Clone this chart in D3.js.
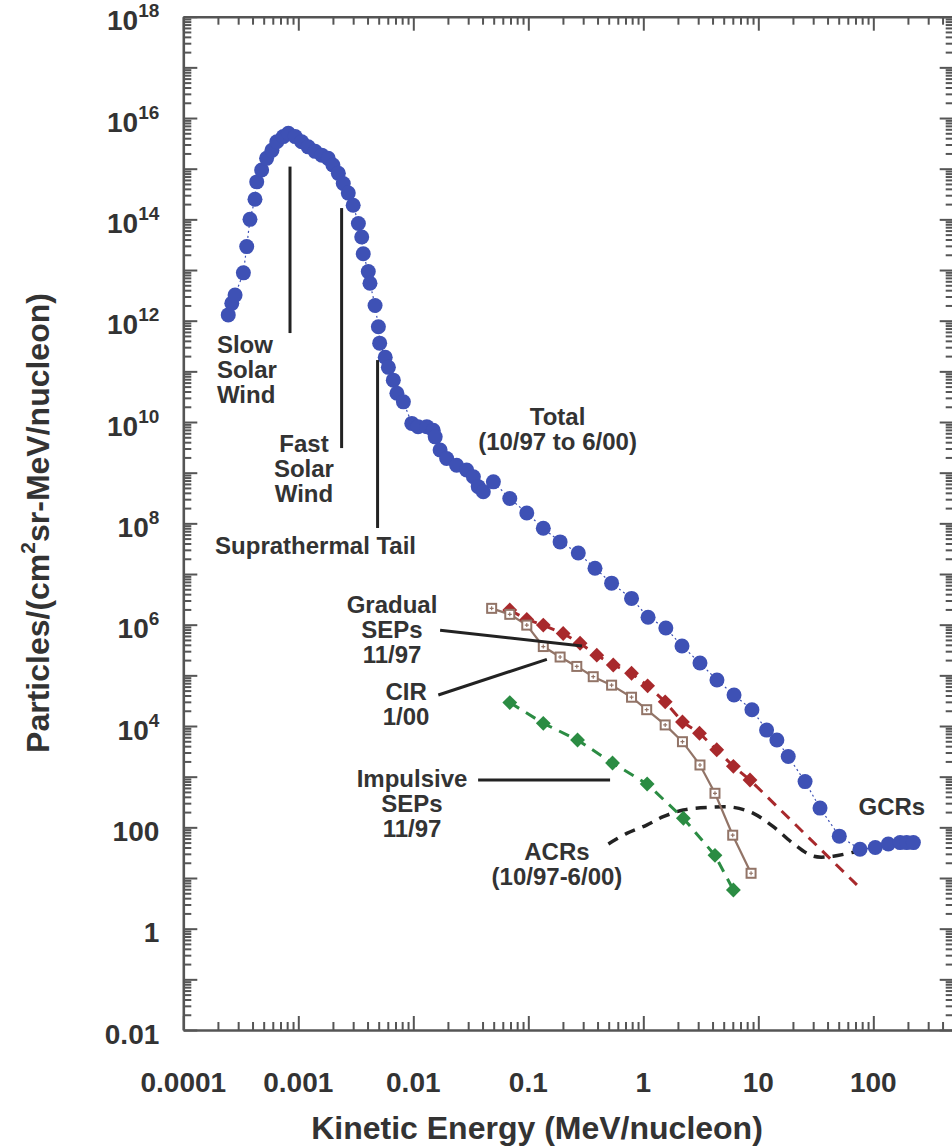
<!DOCTYPE html>
<html><head><meta charset="utf-8">
<script src="https://cdn.jsdelivr.net/npm/d3@7"></script>
<style>html,body{margin:0;padding:0;background:#fff;} svg{display:block}</style>
</head><body><svg id="chart" width="952" height="1148"></svg>
<script>
// ---------------- DATA ----------------
const xTickValues = [1e-4, 1e-3, 1e-2, 1e-1, 1, 10, 100];
const xTickLabels = ["0.0001", "0.001", "0.01", "0.1", "1", "10", "100"];
const yTickValues = [1e-2, 1, 1e2, 1e4, 1e6, 1e8, 1e10, 1e12, 1e14, 1e16, 1e18];
const yTickBase = ["0.01", "1", "100", "10", "10", "10", "10", "10", "10", "10", "10"];
const yTickExp  = ["", "", "", "4", "6", "8", "10", "12", "14", "16", "18"];

// Total (10/97 to 6/00)
const totalEnergy = [2.46e-4, 2.64e-4, 2.82e-4, 3.33e-4, 3.56e-4, 3.80e-4, 4.2e-4, 4.35e-4, 4.8e-4, 5.3e-4,
  5.9e-4, 6.5e-4, 7.4e-4, 8.2e-4, 9.4e-4, 1.07e-3, 1.22e-3, 1.40e-3, 1.6e-3, 1.82e-3,
  2.0e-3, 2.23e-3, 2.46e-3, 2.72e-3, 3.0e-3, 3.33e-3, 3.56e-3, 3.67e-3, 4.06e-3, 4.2e-3,
  4.65e-3, 4.97e-3, 5.1e-3, 5.7e-3, 6.07e-3, 6.7e-3, 7.2e-3, 8.2e-3, 9.7e-3, 1.10e-2,
  1.31e-2, 1.49e-2, 1.55e-2, 1.71e-2, 1.95e-2, 2.38e-2, 2.91e-2, 3.33e-2, 3.67e-2, 4.06e-2,
  4.97e-2, 6.9e-2, 9.7e-2, 0.135, 0.189, 0.272, 0.38, 0.53, 0.79, 1.10,
  1.57, 2.17, 3.11, 4.37, 6.15, 8.8, 11.8, 14.5, 18.2, 25.5,
  34.4, 50.6, 76.6, 104, 135, 171, 195, 223];
const totalFlux = [1.3e12, 2.2e12, 3.2e12, 8.8e12, 2.9e13, 1.0e14, 2.5e14, 5.5e14, 9.4e14, 1.6e15,
  2.3e15, 3.4e15, 4.3e15, 5.0e15, 4.3e15, 3.4e15, 2.7e15, 2.2e15, 1.85e15, 1.6e15,
  1.18e15, 8.1e14, 5.1e14, 3.3e14, 1.9e14, 8.3e13, 4.5e13, 2.1e13, 9.3e12, 5.5e12,
  2.0e12, 7.6e11, 3.6e11, 1.9e11, 1.2e11, 6.7e10, 3.7e10, 2.5e10, 9.4e9, 8.1e9,
  8.1e9, 6.9e9, 5.1e9, 2.8e9, 1.9e9, 1.4e9, 1.13e9, 8.3e8, 5.3e8, 4.2e8,
  6.6e8, 3.1e8, 1.6e8, 8.0e7, 4.3e7, 2.6e7, 1.3e7, 6.6e6, 3.3e6, 1.4e6,
  8.6e5, 3.8e5, 1.75e5, 8.1e4, 4.1e4, 2.1e4, 8.3e3, 5.3e3, 2.5e3, 800,
  240, 67, 37, 40, 47, 50, 50, 50];

// Gradual SEPs 11/97
const gradualEnergy = [0.069, 0.097, 0.135, 0.201, 0.282, 0.394, 0.548, 0.79, 1.09, 1.55, 2.19, 3.08, 4.35, 6.07, 8.47];
const gradualFlux   = [1.95e6, 1.27e6, 9.8e5, 6.7e5, 4.3e5, 2.5e5, 1.6e5, 1.1e5, 6.2e4, 3.0e4, 1.2e4, 7.2e3, 3.4e3, 1.6e3, 860];
const gradualFitEnergy = [8.47, 72];
const gradualFitFlux   = [860, 7.3];

// CIR 1/00
const cirEnergy = [0.048, 0.069, 0.097, 0.135, 0.189, 0.264, 0.367, 0.53, 0.79, 1.07, 1.55, 2.19, 3.11, 4.2, 5.99, 8.65];
const cirFlux   = [2.1e6, 1.6e6, 9.8e5, 3.7e5, 2.3e5, 1.5e5, 9.4e4, 6.4e4, 3.7e4, 2.1e4, 1.05e4, 4.9e3, 1.7e3, 470, 70, 12.4];

// Impulsive SEPs 11/97
const impulsiveEnergy = [0.069, 0.135, 0.268, 0.54, 1.08, 2.23, 4.2, 6.07];
const impulsiveFlux   = [2.9e4, 1.13e4, 5.3e3, 1.86e3, 716, 151, 28, 5.8];

// ACRs (10/97-6/00)
const acrEnergy = [0.497, 0.718, 1.07, 1.49, 2.23, 3.8, 6.07, 9.06, 13.5, 20.1, 30.1, 44.9, 69.3];
const acrFlux   = [47, 76, 111, 162, 220, 248, 248, 189, 103, 48, 27, 27, 33];

// ---------------- LAYOUT ----------------
const plot = {left: 183.3, right: 953.7, top: 16.7, bottom: 1030};
const FONT = '"Liberation Sans", Arial, Helvetica, sans-serif';
const TXT = "#333";
const AX = "#555";

const x = d3.scaleLog().domain([1e-4, 500]).range([plot.left, plot.right]);
const y = d3.scaleLog().domain([1e-2, 1e18]).range([plot.bottom, plot.top]);

const svg = d3.select("#chart");

function minors(lo, hi) {
  const out = [];
  for (let k = lo; k < hi; k++) for (let m = 2; m <= 9; m++) out.push(m * Math.pow(10, k));
  return out;
}
const xMajorAll = d3.range(-4, 3).map(k => Math.pow(10, k));
const xMinor = minors(-4, 3).filter(v => v <= 500);
const yMajorAll = d3.range(-2, 19).map(k => Math.pow(10, k));
const yMinor = minors(-2, 18);

function styleAxis(g, keepDomain) {
  g.selectAll("text").remove();
  g.selectAll(".tick line").attr("stroke", AX).attr("stroke-width", 2);
  if (keepDomain) g.select(".domain").attr("stroke", AX).attr("stroke-width", 2.6);
  else g.select(".domain").remove();
}
const MAJ = 14, MIN = 8;
function addAxis(gen, tr, vals, size, keep) {
  svg.append("g").attr("transform", tr)
    .call(gen.tickValues(vals).tickSizeInner(-size).tickSizeOuter(0).tickFormat(""))
    .call(g => styleAxis(g, keep));
}
addAxis(d3.axisLeft(y), `translate(${plot.left},0)`, yMajorAll, MAJ, true);
addAxis(d3.axisLeft(y), `translate(${plot.left},0)`, yMinor, MIN, false);
addAxis(d3.axisRight(y), `translate(${plot.right},0)`, yMajorAll, MAJ, true);
addAxis(d3.axisRight(y), `translate(${plot.right},0)`, yMinor, MIN, false);
addAxis(d3.axisBottom(x), `translate(0,${plot.bottom})`, xMajorAll, MAJ, true);
addAxis(d3.axisBottom(x), `translate(0,${plot.bottom})`, xMinor, MIN, false);
addAxis(d3.axisTop(x), `translate(0,${plot.top})`, xMajorAll, MAJ, true);
addAxis(d3.axisTop(x), `translate(0,${plot.top})`, xMinor, MIN, false);

// tick labels
const xl = svg.append("g").attr("font-family", FONT).attr("font-weight", "bold")
  .attr("font-size", 28).attr("fill", TXT).attr("text-anchor", "middle");
xTickValues.forEach((v, i) => {
  xl.append("text").attr("x", x(v)).attr("y", plot.bottom + 62).text(xTickLabels[i]);
});
const yl = svg.append("g").attr("font-family", FONT).attr("font-weight", "bold")
  .attr("fill", TXT).attr("text-anchor", "end");
yTickValues.forEach((v, i) => {
  const t = yl.append("text").attr("x", plot.left - 24).attr("y", y(v) + 13.5).attr("font-size", 28);
  t.append("tspan").text(yTickBase[i]);
  if (yTickExp[i]) t.append("tspan").attr("font-size", 19).attr("dy", -13).text(yTickExp[i]);
});

// axis titles
svg.append("text").attr("x", 537).attr("y", 1139).attr("text-anchor", "middle")
  .attr("font-family", FONT).attr("font-weight", "bold").attr("font-size", 32).attr("fill", TXT)
  .text("Kinetic Energy (MeV/nucleon)");
const yt = svg.append("text").attr("transform", "translate(49,523) rotate(-90)").attr("text-anchor", "middle")
  .attr("font-family", FONT).attr("font-weight", "bold").attr("font-size", 32).attr("fill", TXT);
yt.append("tspan").text("Particles/(cm");
yt.append("tspan").attr("font-size", 21).attr("dy", -14).text("2");
yt.append("tspan").attr("dy", 14).text("sr-MeV/nucleon)");

// ---------------- SERIES ----------------
const lineGen = d3.line().x(d => x(d[0])).y(d => y(d[1]));
const zip = (a, b) => a.map((v, i) => [v, b[i]]);

const total = zip(totalEnergy, totalFlux);
const gradual = zip(gradualEnergy, gradualFlux);
const gradualFit = zip(gradualFitEnergy, gradualFitFlux);
const cir = zip(cirEnergy, cirFlux);
const impulsive = zip(impulsiveEnergy, impulsiveFlux);
const acr = zip(acrEnergy, acrFlux);

const BLUE = "#3e51b5", RED = "#a8292c", GREEN = "#2b8c43", BROWN = "#927467";

svg.append("path")
  .attr("d", d3.line().x(d => x(d[0])).y(d => y(d[1])).curve(d3.curveCatmullRom)(acr))
  .attr("fill", "none").attr("stroke", "#222").attr("stroke-width", 3.5).attr("stroke-dasharray", "11,8");

svg.append("path").attr("d", lineGen(gradual.concat(gradualFit.slice(1))))
  .attr("fill", "none").attr("stroke", RED).attr("stroke-width", 3).attr("stroke-dasharray", "11,8");
svg.append("path").attr("d", lineGen(impulsive))
  .attr("fill", "none").attr("stroke", GREEN).attr("stroke-width", 3).attr("stroke-dasharray", "11,8");
svg.append("path").attr("d", lineGen(cir))
  .attr("fill", "none").attr("stroke", BROWN).attr("stroke-width", 2.2);

const dia = d3.symbol().type(d3.symbolSquare).size(110);
svg.append("g").selectAll("path").data(gradual).join("path")
  .attr("d", dia).attr("transform", d => `translate(${x(d[0])},${y(d[1])}) rotate(45)`)
  .attr("fill", RED);
svg.append("g").selectAll("path").data(impulsive).join("path")
  .attr("d", dia).attr("transform", d => `translate(${x(d[0])},${y(d[1])}) rotate(45)`)
  .attr("fill", GREEN);
const cg = svg.append("g").selectAll("g").data(cir).join("g")
  .attr("transform", d => `translate(${x(d[0])},${y(d[1])})`);
cg.append("rect").attr("x", -4.5).attr("y", -4.5).attr("width", 9).attr("height", 9)
  .attr("fill", "#fff").attr("stroke", BROWN).attr("stroke-width", 2);
cg.append("path").attr("d", "M-2,0H2M0,-2V2").attr("stroke", BROWN).attr("stroke-width", 1.2);

svg.append("path").attr("d", lineGen(total))
  .attr("fill", "none").attr("stroke", BLUE).attr("stroke-width", 1.2).attr("stroke-dasharray", "2,3");
svg.append("g").selectAll("circle").data(total).join("circle")
  .attr("cx", d => x(d[0])).attr("cy", d => y(d[1])).attr("r", 7.5).attr("fill", BLUE);

// ---------------- ANNOTATIONS ----------------
const leaders = [
  [[8.47e-4, 1.1e15], [8.47e-4, 5.7e11]],
  [[2.38e-3, 1.67e14], [2.38e-3, 3.06e9]],
  [[4.89e-3, 1.67e11], [4.89e-3, 8.1e7]],
  [[0.0171, 7.8e5], [0.293, 3.8e5]],
  [[0.0165, 4.1e4], [0.145, 2.07e5]],
  [[0.0366, 860], [0.514, 860]]
];
leaders.forEach(l => svg.append("path").attr("d", lineGen(l))
  .attr("stroke", "#222").attr("stroke-width", 3).attr("fill", "none"));

const labels = [
  {lines: ["Slow", "Solar", "Wind"], at: [1.96e-4, 2.3e11], anchor: "start"},
  {lines: ["Fast", "Solar", "Wind"], at: [1.12e-3, 2.55e9], anchor: "middle"},
  {lines: ["Suprathermal Tail"], at: [1.89e-4, 2.48e7], anchor: "start"},
  {lines: ["Total", "(10/97 to 6/00)"], at: [0.1795, 8.7e9], anchor: "middle"},
  {lines: ["Gradual", "SEPs", "11/97"], at: [6.53e-3, 1.7e6], anchor: "middle"},
  {lines: ["CIR", "1/00"], at: [8.65e-3, 3.26e4], anchor: "middle"},
  {lines: ["Impulsive", "SEPs", "11/97"], at: [9.75e-3, 625], anchor: "middle"},
  {lines: ["ACRs", "(10/97-6/00)"], at: [0.1775, 22.6], anchor: "middle"},
  {lines: ["GCRs"], at: [145, 175], anchor: "middle"}
];
const LH = 25;
labels.forEach(L => {
  const t = svg.append("text").attr("font-family", FONT).attr("font-weight", "bold")
    .attr("font-size", 24).attr("fill", TXT).attr("text-anchor", L.anchor);
  L.lines.forEach((s, i) => t.append("tspan").attr("x", x(L.at[0])).attr("y", y(L.at[1]) + i * LH).text(s));
});
</script>
</body></html>
